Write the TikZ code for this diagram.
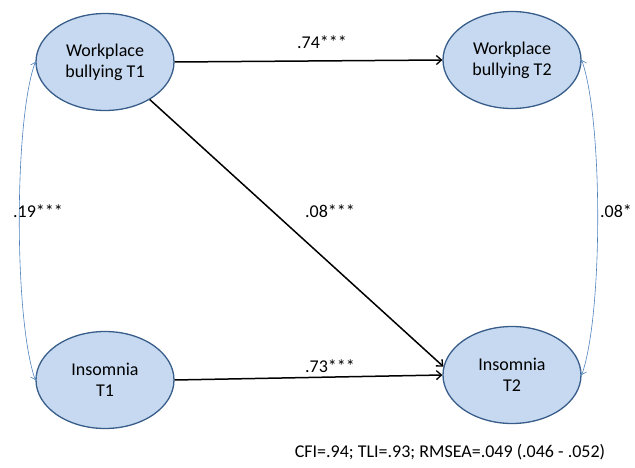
\documentclass[tikz,border=0pt]{standalone}
\usepackage{fontspec}
\setmainfont{Carlito}
\usetikzlibrary{arrows.meta,shapes.geometric}
\definecolor{ellfill}{RGB}{198,217,240}
\definecolor{elldraw}{RGB}{56,93,138}
\definecolor{covline}{RGB}{79,129,189}
\begin{document}
\begin{tikzpicture}[x=1pt,y=-1pt,
  latent/.style={ellipse,draw=elldraw,fill=ellfill,line width=1.3pt,minimum width=138pt,minimum height=97pt,inner sep=0pt,align=center,font=\fontsize{18}{21}\selectfont},
  path/.style={line width=1.5pt,-{Straight Barb[length=5pt,width=9pt,line width=1.3pt]}},
  cov/.style={draw=covline,line width=0.6pt,{Straight Barb[length=4pt,width=7pt]}-{Straight Barb[length=4pt,width=7pt]}},
  lbl/.style={font=\fontsize{18}{21}\selectfont,inner sep=0pt}]
\useasboundingbox (0,0) rectangle (635,468);
\node[latent] (wb1) at (105,62) {Workplace\\bullying T1};
\node[latent] (wb2) at (512,60) {Workplace\\bullying T2};
\node[latent] (in1) at (105,380) {Insomnia\\T1};
\node[latent] (in2) at (512,375) {Insomnia\\T2};
\draw[path] (wb1.-40) -- (in2.173);
\draw[path] (wb1.east) -- (wb2.west);
\draw[path] (in1.east) -- (in2.west);
\draw[cov] (wb1.west) .. controls (14,120) and (14,320) .. (in1.west);
\draw[cov] (wb2.east) .. controls (603,120) and (603,315) .. (in2.east);
\node[lbl] (l1) at (322,42) {.74***};
\node[lbl] (l2) at (330,211) {.08***};
\node[lbl] (l3) at (330,366) {.73***};
\node[lbl] (l4) at (38,211) {.19***};
\node[lbl] (l5) at (616,211) {.08*};
\node[lbl] (fit) at (450,452) {CFI=.94; TLI=.93; RMSEA=.049 (.046 - .052)};
\end{tikzpicture}
\end{document}
